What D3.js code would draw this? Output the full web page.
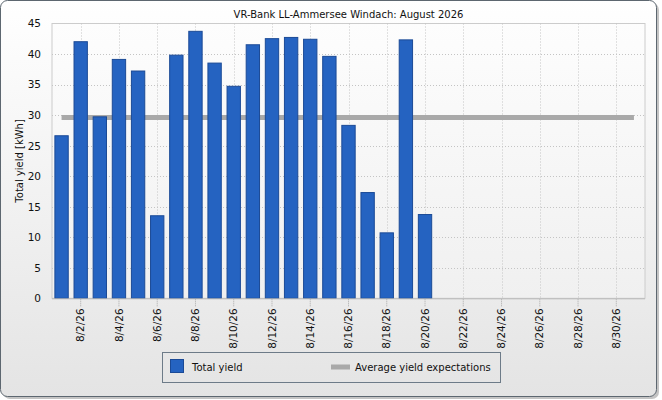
<!DOCTYPE html>
<html>
<head>
<meta charset="utf-8">
<script src="https://cdn.jsdelivr.net/npm/d3@7"></script>
<style>
  body { margin: 0; background: #ffffff; }
  text { font-family: "DejaVu Sans", Verdana, sans-serif; fill: #111; }
</style>
</head>
<body>
<div id="chart"></div>
<script>
// chart data
const title = "VR-Bank LL-Ammersee Windach: August 2026";
const yTitle = "Total yield [kWh]";
const days = d3.range(1, 32);                      // 1..31 August
const dayLabels = days.map(d => "8/" + d + "/26");
const totalYield = [26.7, 42.1, 29.8, 39.2, 37.3, 13.6, 39.9, 43.8, 38.6, 34.8,
                    41.6, 42.6, 42.8, 42.5, 39.7, 28.4, 17.4, 10.8, 42.4, 13.8];
const avgExpectation = 29.6;
const yTicks = [0, 5, 10, 15, 20, 25, 30, 35, 40, 45];
const legendNames = ["Total yield", "Average yield expectations"];

const svgWidth = 662, svgHeight = 400;
const margin = {top: 23.5, right: 17, bottom: 102, left: 52};
const fontSize = "10px";

let svg = d3.select("#chart").append("svg")
    .attr("width", svgWidth)
    .attr("height", svgHeight);

let defs = svg.append("defs");
let bgGrad = defs.append("linearGradient").attr("id", "bgGrad")
    .attr("x1", 0).attr("y1", 0).attr("x2", 0).attr("y2", 1);
bgGrad.append("stop").attr("offset", "0%").attr("stop-color", "#ffffff");
bgGrad.append("stop").attr("offset", "100%").attr("stop-color", "#e4e4e4");
let plotGrad = defs.append("linearGradient").attr("id", "plotGrad")
    .attr("x1", 0).attr("y1", 0).attr("x2", 0).attr("y2", 1);
plotGrad.append("stop").attr("offset", "0%").attr("stop-color", "#fdfdfd");
plotGrad.append("stop").attr("offset", "100%").attr("stop-color", "#f0f0f0");

// frame with a small shadow
svg.append("rect")
    .attr("x", 3).attr("y", 3).attr("width", 656).attr("height", 396)
    .attr("rx", 7).attr("fill", "#c4c4c4");
svg.append("rect")
    .attr("x", 0.5).attr("y", 0.5).attr("width", 656).attr("height", 396)
    .attr("rx", 7).attr("fill", "url(#bgGrad)")
    .attr("stroke", "#5d6770").attr("stroke-width", 1);

let x0 = margin.left, x1 = svgWidth - margin.right;
let y0 = svgHeight - margin.bottom, y1 = margin.top;

let xScale = d3.scaleBand()
    .domain(days)
    .range([x0, x1])
    .paddingInner(0.25)
    .paddingOuter(0.125);
let yScale = d3.scaleLinear()
    .domain([0, 45])
    .range([298.3, y1]);

let xCenter = d => xScale(d) + xScale.bandwidth() / 2;
let tickDays = days.filter(d => d % 2 === 0);

// plot background
svg.append("rect")
    .attr("x", x0).attr("y", y1)
    .attr("width", x1 - x0).attr("height", yScale(0) - y1)
    .attr("fill", "url(#plotGrad)")
    .attr("stroke", "#cccccc");

// grid lines
let grid = svg.append("g").attr("id", "grid");
grid.selectAll(".hgrid").data(yTicks.slice(1, -1)).enter()
    .append("line")
    .attr("x1", x0).attr("x2", x1)
    .attr("y1", d => Math.round(yScale(d)) + 0.5)
    .attr("y2", d => Math.round(yScale(d)) + 0.5)
    .attr("stroke", "#c4c4c4")
    .attr("stroke-dasharray", "1,2");
grid.selectAll(".vgrid").data(tickDays).enter()
    .append("line")
    .attr("x1", d => Math.round(xCenter(d)) + 0.5)
    .attr("x2", d => Math.round(xCenter(d)) + 0.5)
    .attr("y1", y1).attr("y2", yScale(0))
    .attr("stroke", "#c4c4c4")
    .attr("stroke-dasharray", "1,2");

// average yield expectation line (behind the bars)
svg.append("line")
    .attr("x1", xCenter(days[0]))
    .attr("x2", xCenter(days[days.length - 1]) - 1.5)
    .attr("y1", yScale(avgExpectation))
    .attr("y2", yScale(avgExpectation))
    .attr("stroke", "#a9a9a9")
    .attr("stroke-width", 5);

// bars
svg.append("g").attr("id", "barsArea")
    .selectAll("rect").data(totalYield).enter()
    .append("rect")
    .attr("x", (d, i) => xScale(days[i]) + 0.5)
    .attr("y", d => yScale(d) + 0.5)
    .attr("width", xScale.bandwidth() - 1)
    .attr("height", d => yScale(0) - yScale(d) - 0.5)
    .attr("fill", "#2563c1")
    .attr("stroke", "#1b4a96")
    .attr("stroke-width", 1);

// x axis line
svg.append("line")
    .attr("x1", x0).attr("x2", x1)
    .attr("y1", yScale(0) + 0.5).attr("y2", yScale(0) + 0.5)
    .attr("stroke", "#b8b8b8");

// y axis
let yAxis = d3.axisLeft(yScale).tickValues(yTicks).tickSize(0).tickPadding(0);
let yAxisG = svg.append("g")
    .attr("transform", "translate(" + 41 + ",0)")
    .call(yAxis);
yAxisG.select(".domain").remove();
yAxisG.selectAll("text")
    .style("font-family", "'DejaVu Sans', Verdana, sans-serif")
    .style("font-size", "10.5px")
    .attr("fill", "#111");

// x axis
let xAxis = d3.axisBottom(xScale)
    .tickValues(tickDays)
    .tickFormat(d => dayLabels[d - 1])
    .tickSize(7)
    .tickPadding(2);
let xAxisG = svg.append("g")
    .attr("transform", "translate(0," + (yScale(0) + 1) + ")")
    .call(xAxis);
xAxisG.select(".domain").remove();
xAxisG.selectAll(".tick line")
    .attr("stroke", "#aaaaaa")
    .attr("stroke-dasharray", "1,1");
xAxisG.selectAll("text")
    .style("font-family", "'DejaVu Sans', Verdana, sans-serif")
    .style("font-size", "10.5px")
    .attr("fill", "#111")
    .attr("transform", "rotate(-90)")
    .attr("text-anchor", "end")
    .attr("x", -9)
    .attr("y", 0)
    .attr("dy", "0.35em");

// titles
svg.append("text")
    .attr("x", (x0 + x1) / 2).attr("y", 18)
    .attr("text-anchor", "middle")
    .style("font-size", fontSize)
    .text(title);
svg.append("text")
    .attr("transform", "translate(23," + ((y1 + yScale(0)) / 2) + ") rotate(-90)")
    .attr("text-anchor", "middle")
    .style("font-size", fontSize)
    .text(yTitle);

// legend
let legend = svg.append("g").attr("id", "legend");
legend.append("rect")
    .attr("x", 162.5).attr("y", 352.5)
    .attr("width", 338).attr("height", 30)
    .attr("fill", "none")
    .attr("stroke", "#6d7b88");
legend.append("rect")
    .attr("x", 170.5).attr("y", 359.5)
    .attr("width", 13).attr("height", 13)
    .attr("fill", "#2563c1").attr("stroke", "#1b4a96");
legend.append("text")
    .attr("x", 192).attr("y", 370.5)
    .style("font-size", fontSize)
    .text(legendNames[0]);
legend.append("line")
    .attr("x1", 331).attr("x2", 350)
    .attr("y1", 367).attr("y2", 367)
    .attr("stroke", "#a9a9a9").attr("stroke-width", 5);
legend.append("text")
    .attr("x", 355).attr("y", 370.5)
    .style("font-size", fontSize)
    .text(legendNames[1]);
</script>
</body>
</html>
